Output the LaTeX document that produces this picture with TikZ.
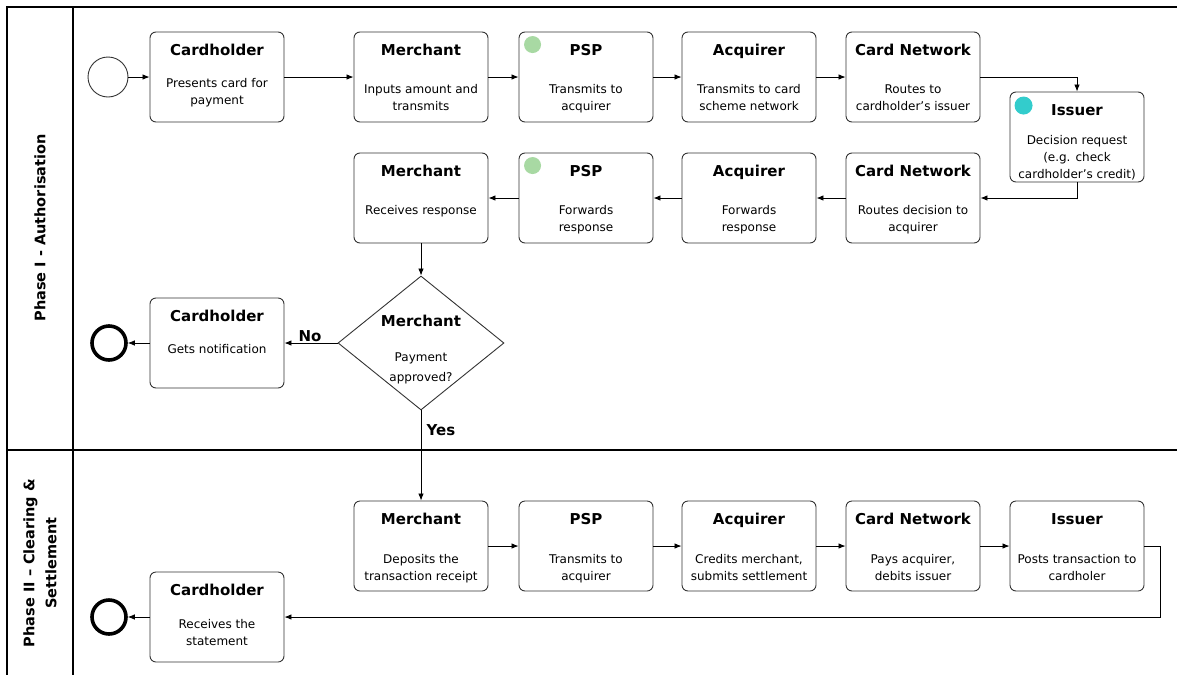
\documentclass[tikz,border=0pt]{standalone}
\usepackage{fontspec}
\setmainfont{DejaVu Sans}
\usepackage{tikz}
\usetikzlibrary{shapes.geometric,arrows.meta}
\definecolor{boxline}{rgb}{.2,.2,.2}
\definecolor{pspgreen}{rgb}{.66,.85,.64}
\definecolor{issuercyan}{rgb}{.2,.8,.8}
\newcommand{\titlefont}{\bfseries\fontsize{15}{18}\selectfont}
\newcommand{\bodyfont}{\fontsize{12}{17}\selectfont}
% title near the top, body lines below it
\newcommand{\tasktext}[3][57]{%
  \vbox to 90pt{\offinterlineskip
    \hbox to 134pt{\hss\rule{0pt}{23.5pt}\raisebox{0pt}[0pt][0pt]{\titlefont #2}\hss}%
    \vskip\dimexpr #1pt-31pt\relax
    \hbox to 134pt{\hss\bodyfont\begin{tabular}[t]{@{}c@{}}#3\end{tabular}\hss}%
    \vss}}

\begin{document}
\begin{tikzpicture}[x=1pt, y=-1pt,
    task/.style={draw=boxline, line width=0.9pt, rounded corners=6pt, inner sep=0pt},
    decision/.style={draw=boxline, line width=0.9pt, diamond, inner sep=0pt,
      minimum width=166pt, minimum height=134pt},
    startev/.style={draw=boxline, line width=0.9pt, circle, minimum size=40pt, inner sep=0pt},
    endev/.style={draw=black, line width=3.6pt, circle, minimum size=34pt, inner sep=0pt},
    flow/.style={->, line width=0.8pt, >={Latex[length=7pt,width=5.5pt]}},
    lane/.style={line width=1.8pt},
    branch/.style={font=\titlefont}]
  \useasboundingbox (0,0) rectangle (1177,675);

  % Lanes
  \draw[lane] (1177,7) -- (7,7) -- (7,675);
  \draw[lane] (73,7) -- (73,675);
  \draw[lane] (7,450) -- (1177,450);
  \node[rotate=90, font=\bfseries\fontsize{14.5}{22}\selectfont] (lane1) at (40,228) {Phase I - Authorisation};
  \node[rotate=90, align=center, font=\bfseries\fontsize{14.5}{22}\selectfont] (lane2) at (40,563) {Phase II -- Clearing \&\\Settlement};

  % Phase I - request
  \node[startev] (start) at (108,77) {};
  \node[task] (ch1) at (217,77) {\tasktext[51]{Cardholder}{Presents card for\\payment}};
  \node[task] (mer1) at (421,77) {\tasktext{Merchant}{Inputs amount and\\transmits}};
  \node[task] (psp1) at (586,77) {\tasktext{PSP}{Transmits to\\acquirer}};
  \node[task] (acq1) at (749,77) {\tasktext{Acquirer}{Transmits to card\\scheme network}};
  \node[task] (cn1) at (913,77) {\tasktext{Card Network}{Routes to\\cardholder’s issuer}};
  \node[task] (iss1) at (1077,137) {\tasktext[48]{Issuer}{Decision request\\(e.g. check\\cardholder’s credit)}};

  % Phase I - response
  \node[task] (cn2) at (913,198) {\tasktext{Card Network}{Routes decision to\\acquirer}};
  \node[task] (acq2) at (749,198) {\tasktext{Acquirer}{Forwards\\response}};
  \node[task] (psp2) at (586,198) {\tasktext{PSP}{Forwards\\response}};
  \node[task] (mer2) at (421,198) {\tasktext{Merchant}{Receives response}};

  % Decision
  \node[decision] (approve) at (421,343) {};
  \node[inner sep=0pt] (approvetext) at (421,348) {\tasktext[54]{Merchant}{Payment\\[3pt]approved?}};
  \node[task] (ch2) at (217,343) {\tasktext[51]{Cardholder}{Gets notification}};
  \node[endev] (end1) at (109,343) {};

  % Phase II
  \node[task] (mer3) at (421,546) {\tasktext[58]{Merchant}{Deposits the\\transaction receipt}};
  \node[task] (psp3) at (586,546) {\tasktext[58]{PSP}{Transmits to\\acquirer}};
  \node[task] (acq3) at (749,546) {\tasktext[58]{Acquirer}{Credits merchant,\\submits settlement}};
  \node[task] (cn3) at (913,546) {\tasktext[58]{Card Network}{Pays acquirer,\\debits issuer}};
  \node[task] (iss3) at (1077,546) {\tasktext[58]{Issuer}{Posts transaction to\\cardholer}};
  \node[task] (ch3) at (217,617) {\tasktext[52]{Cardholder}{Receives the\\statement}};
  \node[endev] (end2) at (109,617) {};

  % Markers
  \fill[pspgreen] ([shift={(14,13)}]psp1.north west) circle (8.5pt);
  \fill[pspgreen] ([shift={(14,13)}]psp2.north west) circle (8.5pt);
  \fill[issuercyan] ([shift={(14,14)}]iss1.north west) circle (9pt);

  % Flows
  \draw[flow] (start) -- (ch1);
  \draw[flow] (ch1) -- (mer1);
  \draw[flow] (mer1) -- (psp1);
  \draw[flow] (psp1) -- (acq1);
  \draw[flow] (acq1) -- (cn1);
  \draw[flow] (cn1.east) -| (iss1.north);
  \draw[flow] (iss1.south) |- (cn2.east);
  \draw[flow] (cn2) -- (acq2);
  \draw[flow] (acq2) -- (psp2);
  \draw[flow] (psp2) -- (mer2);
  \draw[flow] (mer2.south) -- (approve.north);
  \draw[flow] (approve.west) -- node[branch, above, yshift=-2pt, xshift=-1pt] {No} (ch2.east);
  \draw[flow] (ch2) -- (end1);
  \draw[flow] (approve.south) -- node[branch, right, pos=0.22, xshift=2pt] {Yes} (mer3.north);
  \draw[flow] (mer3) -- (psp3);
  \draw[flow] (psp3) -- (acq3);
  \draw[flow] (acq3) -- (cn3);
  \draw[flow] (cn3) -- (iss3);
  \draw[flow] (iss3.east) -- ++(16,0) |- (ch3.east);
  \draw[flow] (ch3) -- (end2);
\end{tikzpicture}
\end{document}
